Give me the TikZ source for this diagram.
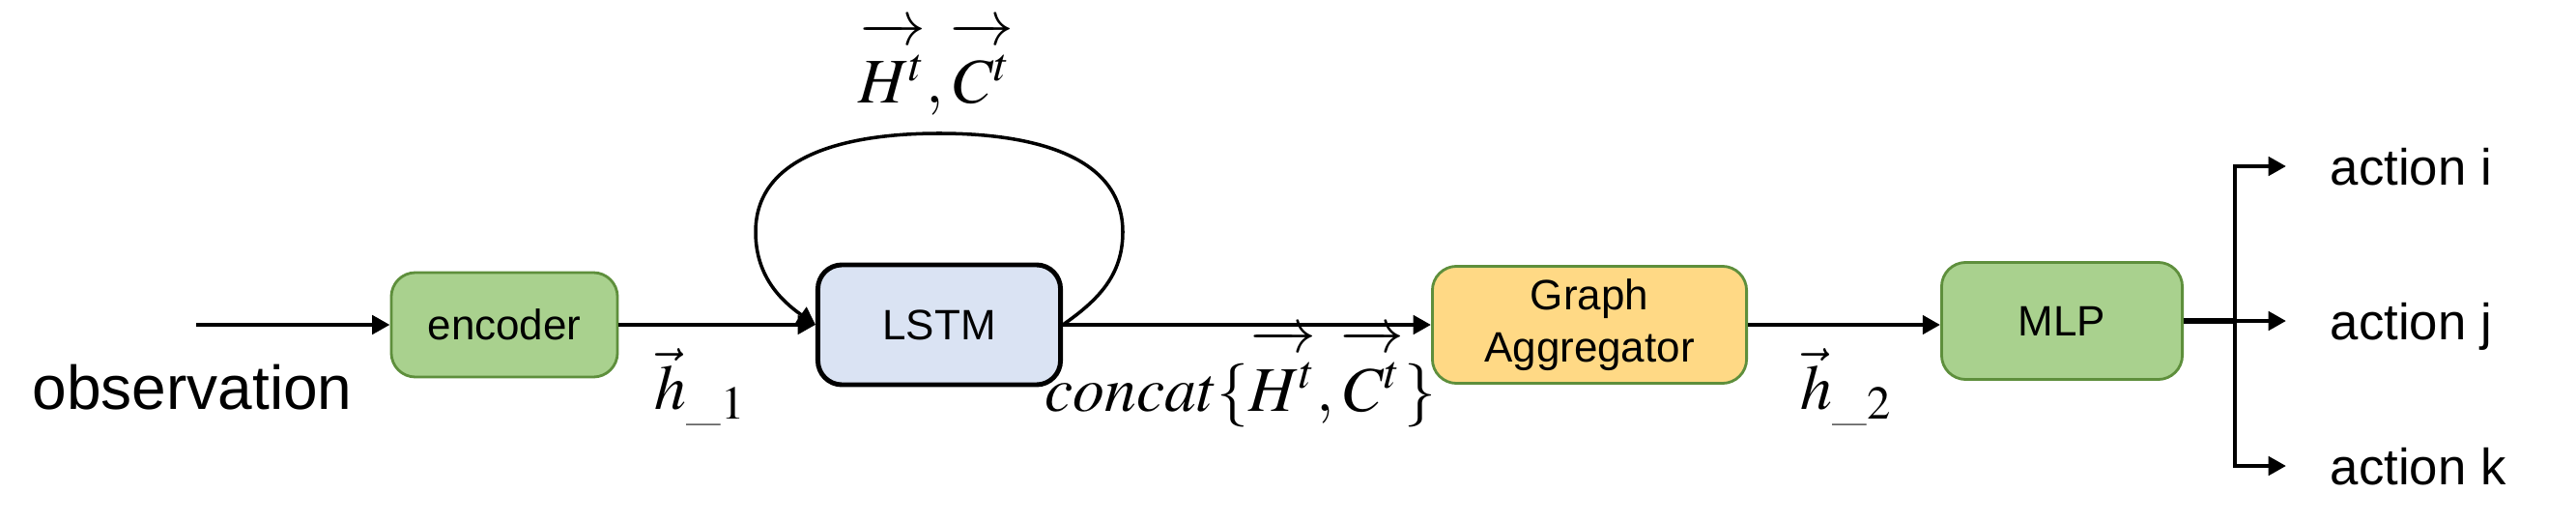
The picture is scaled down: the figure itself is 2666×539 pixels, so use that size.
\documentclass[tikz,border=0pt]{standalone}
\usepackage{amsmath, amssymb}
\usepackage{mathptmx}
\usepackage{fontspec}
\newfontfamily\blockfont{Liberation Sans}
\usetikzlibrary{arrows.meta, positioning, calc}
\definecolor{mlpgreen}{HTML}{A9D18E}
\definecolor{mlpedge}{HTML}{5E8F3C}
\definecolor{lstmblue}{HTML}{DAE3F3}
\definecolor{aggyellow}{HTML}{FFD985}
\newcommand{\statevec}[2][0.92em]{\overrightarrow{\rule{0pt}{#1}#2^t}}
\tikzset{
  block/.style={draw, rounded corners=0.25cm, align=center, inner sep=0pt,
                font=\blockfont\fontsize{12.5}{14}\selectfont},
  greenblock/.style={block, fill=mlpgreen, draw=mlpedge, line width=0.8pt},
  flow/.style={-{Triangle[length=5.2pt,width=5.4pt]}, line width=1.3pt},
  veclabel/.style={font=\fontsize{18.7}{20}\selectfont, inner sep=0pt},
  actlabel/.style={font=\blockfont\fontsize{15}{17}\selectfont, anchor=west,
                   inner xsep=12.8pt, text depth=0pt}
}

\begin{document}
\begin{tikzpicture}[x=0.01cm, y=0.01cm]
  \useasboundingbox (0,0) rectangle (2666,539);

  \coordinate (obsin) at (203,203);
  \node[font=\blockfont\fontsize{18.2}{20}\selectfont, anchor=base, inner sep=0pt] (obs) at (199,116) {observation};

  \node[greenblock, minimum width=2.34cm, minimum height=1.08cm] (enc) at (522,203) {encoder};
  \node[block, fill=lstmblue, line width=1.4pt, minimum width=2.51cm, minimum height=1.24cm] (lstm) at (972,203) {LSTM};
  \node[block, fill=aggyellow, draw=mlpedge, line width=0.8pt, minimum width=3.25cm, minimum height=1.21cm,
        font=\blockfont\fontsize{12.5}{15.5}\selectfont] (agg) at (1645,203) {Graph\\Aggregator};
  \node[greenblock, minimum width=2.49cm, minimum height=1.21cm] (mlp) at (2134,207) {MLP};

  \draw[flow] (obsin) -- (enc);
  \draw[flow] (enc) -- (lstm);
  \draw[flow] (lstm) -- (agg);
  \draw[flow] (agg.east) -- (agg.east -| mlp.west);

  % recurrent state
  \coordinate (loopr) at (1162,299);
  \coordinate (loopt) at (972,401);
  \coordinate (loopl) at (782,299);
  \draw[line width=1pt, -{Triangle[length=5.2pt,width=5.4pt]}]
    (lstm.east) to[out=35,in=-90] (loopr) to[out=90,in=0] (loopt)
    to[out=180,in=90] (loopl) to[out=-90,in=145] (lstm.west);

  \node[veclabel, anchor=base] (hc) at (969,432) {$\statevec{H},\statevec{C}$};
  \node[veclabel] (h1) at (725,139) {$\vec{h}_{\_1}$};
  \node[veclabel, anchor=base] (cc) at (1284,114) {$concat\{\statevec{H},\statevec{C}\}$};
  \node[veclabel] (h2) at (1911,139) {$\vec{h}_{\_2}$};

  % output heads
  \coordinate (split) at (2313,207);
  \node[actlabel] (acti) at (2366,367) {action i};
  \node[actlabel] (actj) at (2366,207) {action j};
  \node[actlabel] (actk) at (2366,57) {action k};
  \draw[line width=1.9pt] (mlp) -- (split);
  \draw[flow] (split) |- (acti);
  \draw[flow] (split) -- (actj);
  \draw[flow] (split) |- (actk);
\end{tikzpicture}
\end{document}
